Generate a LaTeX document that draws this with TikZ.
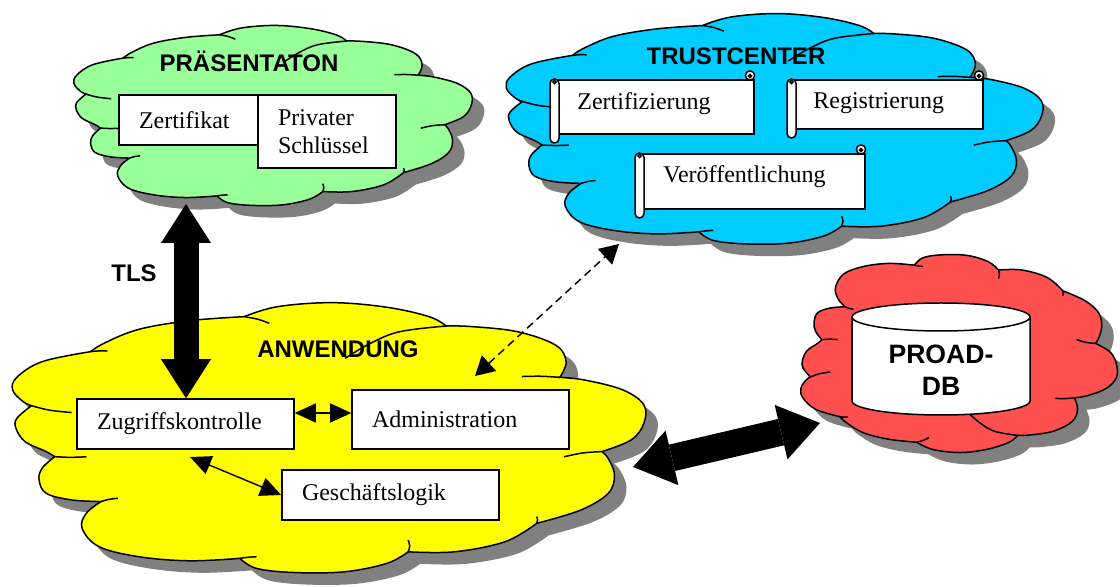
\documentclass[tikz,border=0pt]{standalone}
\usepackage{fontspec}
\setmainfont{Liberation Serif}
\setsansfont{Liberation Sans}
\usetikzlibrary{arrows.meta}
\definecolor{cgreen}{HTML}{99FF99}
\definecolor{cblue}{HTML}{00CCFF}
\definecolor{cyellow}{HTML}{FFFF00}
\definecolor{cred}{HTML}{FF5050}
\definecolor{cshadow}{HTML}{808080}
\tikzset{lobe/.style={smooth,tension=0.6}}
\newcommand{\cloudfill}[1]{\path[#1]
 plot[lobe] coordinates {(36.65,5.37) (28.05,6.84) (20.11,10.01) (14.81,14.90) (12.50,18.19)}
 -- plot[lobe] coordinates {(12.50,18.19) (4.89,21.86) (0.92,27.59) (0.25,32.23) (1.91,36.51) (3.23,37.97)}
 -- plot[lobe] coordinates {(3.23,37.97) (0.92,42.6) (0.79,46.3) (2.24,51.2) (5.55,54.8) (6.87,56.65)}
 -- plot[lobe] coordinates {(6.87,56.65) (4.89,60.9) (4.42,65.2) (5.55,70.1) (9.52,72.5) (14.15,73.1)}
 -- plot[lobe] coordinates {(14.15,73.1) (11.84,77.4) (11.18,82.9) (13.82,89.6) (20.11,93.3) (28.05,94.8) (35.99,93.9)}
 -- plot[lobe] coordinates {(35.99,93.9) (38.63,97.6) (44.59,99.1) (52.53,98.8) (59.15,95.7) (62.45,91.5)}
 -- plot[lobe] coordinates {(62.45,91.5) (69.73,91.5) (77.69,87.8) (82.64,81.1)}
 -- plot[lobe] coordinates {(82.64,81.1) (89.59,76.2) (93.9,70.1) (94.89,63.4) (93.9,57.3) (92.91,54.8)}
 -- plot[lobe] coordinates {(92.91,54.8) (97.53,50.5) (99.51,44.4) (99.51,37.7) (96.21,32.2) (90.25,28.6) (86.29,27.6)}
 -- plot[lobe] coordinates {(86.29,27.6) (87.28,21.9) (85.63,15.8) (79.67,10.9) (72.4,9.0) (68.42,8.8)}
 -- plot[lobe] coordinates {(68.42,8.8) (65.77,5.4) (59.15,1.95) (50.55,0.24) (41.95,1.7) (36.65,5.37)}
 -- cycle;}
\newcommand{\cloudinner}{\path[draw,line width=0.75pt]
 plot[lobe] coordinates {(36.65,5.37) (38.8,6.3) (40.6,7.8)}
 plot[lobe] coordinates {(12.5,18.19) (13.9,17.9) (15.14,17.95)}
 plot[lobe] coordinates {(3.23,37.97) (6.0,39.6) (9.52,40.5)}
 plot[lobe] coordinates {(6.87,56.65) (9.3,56.9) (11.84,56.7)}
 plot[lobe] coordinates {(14.15,73.1) (15.4,72.3) (16.8,71.9)}
 plot[lobe] coordinates {(35.99,93.9) (37.3,93.5) (38.63,93.3)}
 plot[lobe] coordinates {(62.45,91.5) (62.7,89.4) (62.45,87.2)}
 plot[lobe] coordinates {(82.64,81.1) (82.8,79.8) (82.64,78.6)}
 plot[lobe] coordinates {(92.91,54.8) (89.9,55.3) (86.95,56.7)}
 plot[lobe] coordinates {(86.29,27.6) (83.3,27.2) (80.33,27.3)}
 plot[lobe] coordinates {(68.42,8.8) (61.13,10.87) (56.51,15.14) (52.53,20.63)};}
\newcommand{\mycloud}[5]{%
 \begin{scope}[shift={(#1+12,#2+12)},x=#3,y=#4]\cloudfill{fill=cshadow}\end{scope}
 \begin{scope}[shift={(#1,#2)},x=#3,y=#4]\cloudfill{fill=#5,draw=black,line width=0.75pt}\cloudinner\end{scope}}
\newcommand{\scrollshape}[4]{%
 \draw[scrollline,fill=white] (#1+4.5,#2+9) rectangle (#3,#4-9);
 \draw[scrollline,fill=white] (#3-4,#2+4.5) circle[radius=2.3pt];
 \draw[scrollline] (#3-4,#2+5) circle[radius=0.8pt];
 \draw[scrollline,fill=white,rounded corners=2.2pt] (#1,#2+8) rectangle (#1+9,#4);
 \draw[scrollline] (#1+4.5,#2+11) circle[radius=0.8pt];}
\begin{document}
\begin{tikzpicture}[x=0.5pt,y=-0.5pt,
 scrollline/.style={line width=0.75pt},
 box/.style={draw,fill=white,line width=0.8pt,inner xsep=10pt,inner ysep=0pt,align=left,font=\fontsize{12}{14}\selectfont},
 title/.style={inner sep=0pt,font=\sffamily\bfseries\fontsize{12}{14}\selectfont},
 stext/.style={inner sep=0pt,anchor=base west,font=\fontsize{12}{14}\selectfont},
 smallarrow/.style={line width=0.7pt,{Triangle[length=10.5pt,width=9.5pt]}-{Triangle[length=10.5pt,width=9.5pt]}}]
\useasboundingbox (0,0) rectangle (1120,587);
\clip (0,0) rectangle (1120,587);
% clouds
\mycloud{73}{25}{2.0pt}{-0.91pt}{cgreen}
\mycloud{505}{13}{2.695pt}{-1.165pt}{cblue}
\mycloud{11}{302}{3.18pt}{-1.365pt}{cyellow}
\mycloud{800}{453}{1.59pt}{1.0pt}{cred}
% titles
\node[title,anchor=base] (tpraes) at (249,72) {PRÄSENTATON};
\node[title,anchor=base] (ttrust) at (736,65) {TRUSTCENTER};
\node[title,anchor=base] (tanw) at (338,358) {ANWENDUNG};
\node[title,anchor=base] (ttls) at (134,282) {TLS};
% presentation boxes
\node[box,text width=49.5pt,minimum height=25pt] (zert) at (188.5,120) {Zertifikat};
\node[box,text width=49pt,minimum height=36.5pt] (priv) at (327,131.5) {Privater\\Schlüssel};
% trustcenter scrolls
\scrollshape{550}{71}{754}{143}
\node[stext] (zfz) at (577,110) {Zertifizierung};
\scrollshape{787}{71}{983}{138}
\node[stext] (reg) at (813,109) {Registrierung};
\scrollshape{635}{145}{865}{218}
\node[stext] (ver) at (663,183) {Veröffentlichung};
% application boxes
\node[box,text width=88.5pt,minimum height=25pt] (zk) at (185.5,424) {Zugriffskontrolle};
\node[box,text width=88.5pt,minimum height=29.5pt] (adm) at (460.5,419.5) {Administration};
\node[box,text width=88.5pt,minimum height=25pt] (gl) at (390.5,495) {Geschäftslogik};
% database cylinder
\path[fill=white,draw=black,line width=0.75pt] (852,317) -- (852,401)
 arc[start angle=180, end angle=0, x radius=89, y radius=14] -- (1030,317);
\draw[fill=white,line width=0.75pt] (941,317) ellipse[x radius=89, y radius=14];
\node[title,align=center,font=\sffamily\bfseries\fontsize{13.3}{16}\selectfont] (db) at (941,370) {PROAD-\\DB};
% connector end points
\coordinate (tlsTop) at (186,204);
\coordinate (zkS) at (190,457);
\coordinate (admT) at (475,376);
\coordinate (tcB) at (619,244);
\coordinate (ylR) at (633,467);
\coordinate (dbL) at (820,423);
% arrows
\draw[line width=12.5pt,{Triangle[length=19.5pt,width=25pt,line width=0pt]}-{Triangle[length=19.5pt,width=25pt,line width=0pt]}] (tlsTop) -- (tlsTop |- zk.north);
\draw[line width=13.5pt,{Triangle[length=20pt,width=28pt,line width=0pt]}-{Triangle[length=20pt,width=28pt,line width=0pt]}] (ylR) -- (dbL);
\draw[line width=0.75pt,dash pattern=on 4pt off 2.5pt,{Triangle[length=9.5pt,width=10.5pt]}-{Triangle[length=9.5pt,width=10.5pt]}] (admT) -- (tcB);
\draw[smallarrow] ([yshift=5.5pt]zk.east) -- ([yshift=3.25pt]adm.west);
\draw[smallarrow] (zkS) -- (gl.west);
\end{tikzpicture}
\end{document}
